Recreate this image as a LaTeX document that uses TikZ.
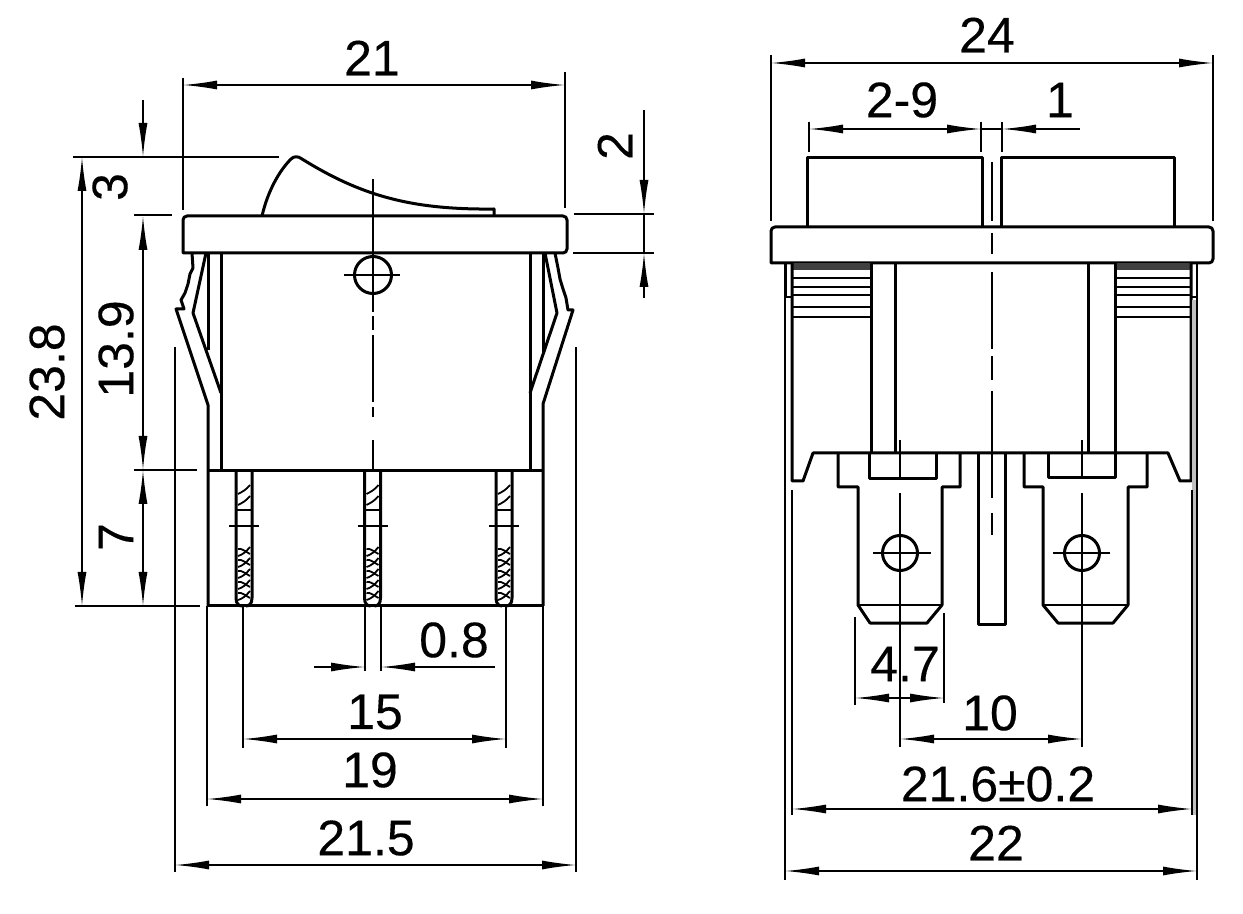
\documentclass[tikz,border=0pt]{standalone}
\usepackage{fontspec}
\setmainfont{Liberation Sans}[FakeBold=0.25]
\usetikzlibrary{arrows.meta}
\tikzset{part/.style = {line width = 1.5pt, line join = round}}
\tikzset{fine/.style = {line width = 0.7pt}}
\tikzset{dimln/.style = {line width = 0.75pt, >={Latex[length=17pt, width=4.5pt]}}}
\tikzset{lbl/.style = {font = \fontsize{25}{29}\selectfont, inner sep = 0}}
\begin{document}
\begin{tikzpicture}[x=0.5pt, y=-0.5pt]
      \useasboundingbox (0, 0) rectangle (1243, 914);

      % side view
      \draw [part] (183, 253) [rounded corners=2pt] -- (183, 216) -- (567, 216) -- (567, 253) [sharp corners] -- cycle;
      \draw [part] (262, 216) .. controls (268, 190) and (280, 170) .. (291, 159) .. controls (294, 156) and (298, 156) .. (302, 159) .. controls (360, 195) and (410, 210) .. (494, 209) -- (494, 216);
      \draw [part] (221, 253) -- (221, 471);
      \draw [part] (530, 253) -- (530, 471);
      \draw [part] (208, 253) -- (208, 350);
      \draw [part] (543, 253) -- (543, 352);
      \draw [part] (206, 253) -- (193, 313) -- (221, 393);
      \draw [part] (545, 253) -- (557, 313) -- (530, 393);
      \draw [part] (192, 253) -- (193, 268) -- (190, 274) -- (188, 284) -- (185, 293) -- (181, 300) -- (184, 309) -- (176, 309) -- (208, 405) -- (208, 606);
      \draw [part] (555, 253) -- (558, 268) -- (560, 279) -- (563, 289) -- (566, 298) -- (568, 310) -- (573, 310) -- (543, 404) -- (543, 606);
      \draw [part] (208, 471) -- (543, 471);
      \draw [part] (208, 606) -- (543, 606);

      \foreach \p in {244, 372.5, 504} {
        \draw [part] ({\p - 8}, 471) -- ({\p - 8}, 598) .. controls ({\p - 8}, 604) and ({\p - 5}, 606) .. ({\p - 2}, 606);
        \draw [part] ({\p + 8}, 471) -- ({\p + 8}, 598) .. controls ({\p + 8}, 604) and ({\p + 5}, 606) .. ({\p + 2}, 606);
        \draw [fine] ({\p - 15}, 526) -- ({\p + 15}, 526);
        \draw [fine] ({\p - 7}, 510) -- ({\p + 7}, 510);
        \foreach \h in {494, 505} {
          \draw [fine, line width = 0.9pt] ({\p - 6}, \h) .. controls ({\p - 2}, {\h - 2}) and ({\p + 2}, {\h - 4}) .. ({\p + 6}, {\h - 9});
        }
        \foreach \h in {556, 567, 578, 589, 600} {
          \draw [fine, line width = 0.9pt] ({\p - 6}, \h) .. controls ({\p - 2}, {\h - 1}) and ({\p + 2}, {\h - 4}) .. ({\p + 6}, {\h - 9});
          \draw [fine, line width = 0.9pt] ({\p - 6}, {\h - 7}) .. controls ({\p - 2}, {\h - 8}) and ({\p + 2}, {\h - 4}) .. ({\p + 6}, {\h - 2});
        }
      }

      \draw [fine] (373, 179) -- (373, 312);
      \draw [fine] (373, 316) -- (373, 330);
      \draw [fine] (373, 335) -- (373, 402);
      \draw [fine] (373, 407) -- (373, 417);
      \draw [fine] (373, 440) -- (373, 471);
      \draw [part] (373, 275) circle [radius = 18.5];
      \draw [fine] (344, 275) -- (400, 275);

      % dimensions of the side view
      \draw [fine] (183, 78) -- (183, 210);
      \draw [fine] (565, 72) -- (565, 208);
      \draw [dimln, <->] (183, 85) -- (565, 85);
      \draw [fine] (73, 157) -- (279, 157);
      \draw [fine] (134, 215) -- (172, 215);
      \draw [fine] (134, 470) -- (197, 470);
      \draw [fine] (75, 606) -- (200, 606);
      \draw [dimln, ->] (143, 100) -- (143, 157);
      \draw [dimln, <->] (143, 216) -- (143, 470);
      \draw [dimln, <->] (143, 470) -- (143, 606);
      \draw [dimln, <->] (82, 157) -- (82, 606);
      \draw [fine] (574, 214) -- (654, 214);
      \draw [fine] (573, 253) -- (654, 253);
      \draw [dimln, ->] (644, 110) -- (644, 214);
      \draw [dimln] (644, 214) -- (644, 253);
      \draw [dimln, ->] (644, 298) -- (644, 253);
      \draw [fine] (175, 347) -- (175, 872);
      \draw [fine] (576, 347) -- (576, 872);
      \draw [dimln, <->] (175, 865) -- (576, 865);
      \draw [fine] (207, 606) -- (207, 806);
      \draw [fine] (543, 606) -- (543, 806);
      \draw [dimln, <->] (207, 799) -- (543, 799);
      \draw [fine] (243, 606) -- (243, 748);
      \draw [fine] (506, 606) -- (506, 748);
      \draw [dimln, <->] (243, 739) -- (506, 739);
      \draw [fine] (365, 606) -- (365, 671);
      \draw [fine] (381, 606) -- (381, 671);
      \draw [dimln, ->] (314, 667) -- (365, 667);
      \draw [dimln, ->] (495, 667) -- (381, 667);

      \node [lbl] (sideW) at (372, 58) {21};
      \node [lbl, rotate = 90] (rocker) at (110, 187) {3};
      \node [lbl, rotate = 90] (bodyH) at (116, 349) {13.9};
      \node [lbl, rotate = 90] (baseH) at (116, 537) {7};
      \node [lbl, rotate = 90] (totalH) at (47, 372) {23.8};
      \node [lbl, rotate = 90] (flangeH) at (615, 146) {2};
      \node [lbl] (pinW) at (454, 640) {0.8};
      \node [lbl] (pinPitch) at (375, 712) {15};
      \node [lbl] (baseW) at (370, 770) {19};
      \node [lbl] (clipW) at (366, 838) {21.5};

      % front view
      \draw [part] (771, 263) [rounded corners=2pt] -- (771, 227) -- (1213, 227) -- (1213, 263) [sharp corners] -- cycle;
      \draw [part] (807, 227) -- (807, 158) -- (982, 158) -- (982, 227);
      \draw [part] (1001, 227) -- (1001, 158) -- (1174, 158) -- (1174, 227);

      \fill [black!75] (792, 263) rectangle (871, 270);
      \fill [black!75] (1115, 263) rectangle (1191, 270);
      \foreach \y in {278, 287, 295, 307, 317} {
        \draw [part, line width = 1.3pt] (792, \y) -- (871, \y);
        \draw [part, line width = 1.3pt] (1115, \y) -- (1191, \y);
      }
      \draw [part] (871, 263) -- (871, 453);
      \draw [part] (895, 263) -- (895, 453);
      \draw [part] (1088, 263) -- (1088, 453);
      \draw [part] (1115, 263) -- (1115, 453);
      \draw [part] (792, 263) -- (792, 481) -- (803, 481) -- (813, 453) -- (1168, 453) -- (1180, 481) -- (1191, 481) -- (1191, 263);
      \fill [black!25] (1192, 300) rectangle (1197, 815);
      \draw [fine] (786, 263) -- (786, 297) -- (792, 297);
      \draw [fine] (1197, 263) -- (1197, 297) -- (1191, 297);

      \draw [part] (838, 453) -- (838, 487) -- (858, 487) -- (858, 605) -- (870, 623) -- (927, 623) -- (942, 605) -- (942, 487) -- (960, 487) -- (960, 453);
      \draw [part] (1024, 453) -- (1024, 487) -- (1043, 487) -- (1043, 605) -- (1058, 623) -- (1113, 623) -- (1128, 605) -- (1128, 487) -- (1147, 487) -- (1147, 453);
      \draw [part] (869, 453) -- (869, 479) -- (936, 479) -- (936, 453);
      \draw [part] (1048, 453) -- (1048, 478) -- (1115, 478) -- (1115, 453);
      \draw [fine] (858, 605) -- (942, 605);
      \draw [fine] (1043, 605) -- (1128, 605);
      \draw [part] (978, 453) -- (978, 624) -- (1005, 624) -- (1005, 453);

      \draw [part] (900, 553) circle [radius = 17.5];
      \draw [part] (1082, 553) circle [radius = 17.5];
      \draw [fine] (873, 553) -- (931, 553);
      \draw [fine] (1053, 553) -- (1110, 553);
      \draw [fine] (900, 440) -- (900, 479);
      \draw [fine] (1082, 440) -- (1082, 478);

      \draw [fine] (992, 162) -- (992, 221);
      \draw [fine] (992, 233) -- (992, 254);
      \draw [fine] (992, 272) -- (992, 349);
      \draw [fine] (992, 356) -- (992, 380);
      \draw [fine] (992, 391) -- (992, 498);
      \draw [fine] (992, 513) -- (992, 535);

      % dimensions of the front view
      \draw [fine] (771, 55) -- (771, 221);
      \draw [fine] (1213, 55) -- (1213, 221);
      \draw [dimln, <->] (771, 63) -- (1213, 63);
      \draw [fine] (809, 122) -- (809, 152);
      \draw [fine] (981, 122) -- (981, 152);
      \draw [fine] (1002, 122) -- (1002, 152);
      \draw [dimln, <->] (809, 129) -- (981, 129);
      \draw [dimln] (981, 129) -- (1002, 129);
      \draw [dimln, ->] (1080, 129) -- (1002, 129);
      \draw [fine] (855, 617) -- (855, 705);
      \draw [fine] (944, 613) -- (944, 703);
      \draw [dimln, <->] (855, 698) -- (944, 698);
      \draw [fine] (900, 493) -- (900, 747);
      \draw [fine] (1082, 493) -- (1082, 747);
      \draw [dimln, <->] (900, 739) -- (1082, 739);
      \draw [fine] (792, 490) -- (792, 815);
      \draw [part, line width = 1pt] (1192, 490) -- (1192, 815);
      \draw [dimln, <->] (792, 809) -- (1192, 809);
      \draw [fine] (785, 263) -- (785, 880);
      \draw [fine] (1197, 263) -- (1197, 880);
      \draw [dimln, <->] (785, 871) -- (1197, 871);

      \node [lbl] (frontW) at (987, 35) {24};
      \node [lbl] (rockerW) at (902, 100) {2-9};
      \node [lbl] (gapW) at (1060, 100) {1};
      \node [lbl] (tabW) at (905, 664) {4.7};
      \node [lbl] (tabPitch) at (990, 713) {10};
      \node [lbl] (clipTol) at (998, 784) {21.6±0.2};
      \node [lbl] (frontD) at (996, 843) {22};
    \end{tikzpicture}
\end{document}
